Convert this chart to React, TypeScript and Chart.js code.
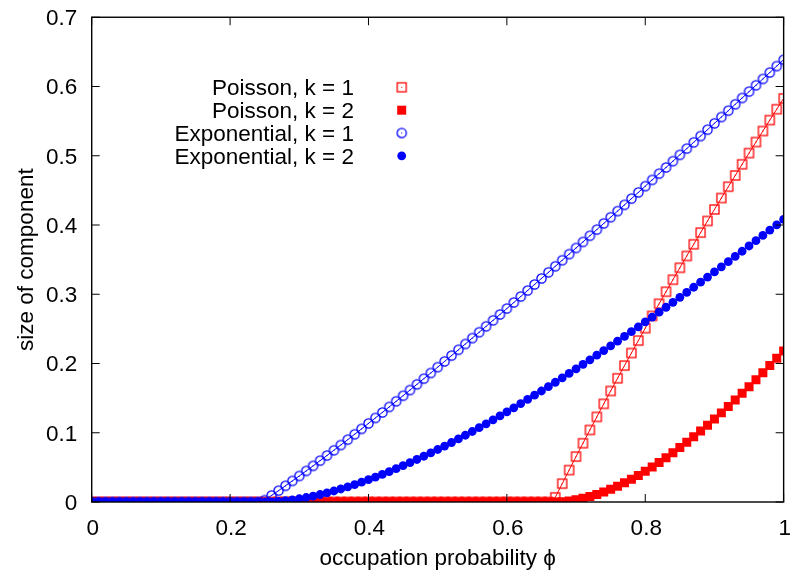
import React, { useEffect, useRef } from "react";
import { Chart, registerables } from "chart.js";

Chart.register(...registerables);

const PHI = [
  0, 0.01, 0.02, 0.03, 0.04, 0.05, 0.06, 0.07, 0.08, 0.09,
  0.1, 0.11, 0.12, 0.13, 0.14, 0.15, 0.16, 0.17, 0.18, 0.19,
  0.2, 0.21, 0.22, 0.23, 0.24, 0.25, 0.26, 0.27, 0.28, 0.29,
  0.3, 0.31, 0.32, 0.33, 0.34, 0.35, 0.36, 0.37, 0.38, 0.39,
  0.4, 0.41, 0.42, 0.43, 0.44, 0.45, 0.46, 0.47, 0.48, 0.49,
  0.5, 0.51, 0.52, 0.53, 0.54, 0.55, 0.56, 0.57, 0.58, 0.59,
  0.6, 0.61, 0.62, 0.63, 0.64, 0.65, 0.66, 0.67, 0.68, 0.69,
  0.7, 0.71, 0.72, 0.73, 0.74, 0.75, 0.76, 0.77, 0.78, 0.79,
  0.8, 0.81, 0.82, 0.83, 0.84, 0.85, 0.86, 0.87, 0.88, 0.89,
  0.9, 0.91, 0.92, 0.93, 0.94, 0.95, 0.96, 0.97, 0.98, 0.99,
  1,
];

const POISSON_K1 = [
  0, 0, 0, 0, 0, 0, 0, 0, 0, 0,
  0, 0, 0, 0, 0, 0, 0, 0, 0, 0,
  0, 0, 0, 0, 0, 0, 0, 0, 0, 0,
  0, 0, 0, 0, 0, 0, 0, 0, 0, 0,
  0, 0, 0, 0, 0, 0, 0, 0, 0, 0,
  0, 0, 0, 0, 0, 0, 0, 0, 0, 0,
  0, 0, 0, 0, 0, 0, 0,
  0.0067, 0.0265, 0.0461, 0.0656, 0.0849, 0.1040, 0.1229, 0.1417, 0.1603, 0.1787,
  0.1970, 0.2151, 0.2331, 0.2510, 0.2687, 0.2862, 0.3037, 0.3210, 0.3382, 0.3553,
  0.3722, 0.3890, 0.4058, 0.4224, 0.4389, 0.4553, 0.4715, 0.4877, 0.5038, 0.5198,
  0.5357, 0.5515, 0.5672, 0.5828,
];

const POISSON_K2 = [
  0, 0, 0, 0, 0, 0, 0, 0, 0, 0,
  0, 0, 0, 0, 0, 0, 0, 0, 0, 0,
  0, 0, 0, 0, 0, 0, 0, 0, 0, 0,
  0, 0, 0, 0, 0, 0, 0, 0, 0, 0,
  0, 0, 0, 0, 0, 0, 0, 0, 0, 0,
  0, 0, 0, 0, 0, 0, 0, 0, 0, 0,
  0, 0, 0, 0, 0, 0, 0, 0,
  0.0005, 0.0016, 0.0032, 0.0053, 0.0079, 0.0110, 0.0145, 0.0185, 0.0229, 0.0277,
  0.0328, 0.0384, 0.0443, 0.0505, 0.0571, 0.0639, 0.0711, 0.0786, 0.0863, 0.0943,
  0.1025, 0.1110, 0.1198, 0.1287, 0.1379, 0.1473, 0.1569, 0.1666, 0.1766, 0.1867,
  0.1970, 0.2075, 0.2181,
];

const EXP_K1 = [
  0, 0, 0, 0, 0, 0, 0, 0, 0, 0,
  0, 0, 0, 0, 0, 0, 0, 0, 0, 0,
  0, 0, 0, 0, 0,
  0.0027, 0.0095, 0.0164, 0.0234, 0.0305, 0.0376, 0.0449, 0.0522, 0.0597, 0.0671,
  0.0747, 0.0823, 0.0900, 0.0978, 0.1056, 0.1135, 0.1214, 0.1293, 0.1373, 0.1454,
  0.1535, 0.1617, 0.1699, 0.1781, 0.1863, 0.1947, 0.2030, 0.2114, 0.2198, 0.2282,
  0.2367, 0.2452, 0.2537, 0.2623, 0.2708, 0.2794, 0.2881, 0.2967, 0.3054, 0.3141,
  0.3228, 0.3316, 0.3404, 0.3491, 0.3580, 0.3668, 0.3756, 0.3845, 0.3934, 0.4023,
  0.4112, 0.4201, 0.4291, 0.4381, 0.4471, 0.4561, 0.4651, 0.4741, 0.4831, 0.4922,
  0.5013, 0.5103, 0.5194, 0.5285, 0.5377, 0.5468, 0.5559, 0.5651, 0.5743, 0.5834,
  0.5926, 0.6018, 0.6110, 0.6202, 0.6295, 0.6387,
];

const EXP_K2 = [
  0, 0, 0, 0, 0, 0, 0, 0, 0, 0,
  0, 0, 0, 0, 0, 0, 0, 0, 0, 0,
  0, 0, 0, 0, 0,
  0.0000, 0.0003, 0.0010, 0.0020, 0.0032, 0.0047, 0.0065, 0.0085, 0.0108, 0.0133,
  0.0159, 0.0188, 0.0219, 0.0252, 0.0286, 0.0322, 0.0359, 0.0398, 0.0439, 0.0481,
  0.0524, 0.0568, 0.0614, 0.0661, 0.0709, 0.0758, 0.0808, 0.0859, 0.0911, 0.0964,
  0.1018, 0.1073, 0.1129, 0.1186, 0.1243, 0.1301, 0.1360, 0.1420, 0.1481, 0.1542,
  0.1603, 0.1666, 0.1729, 0.1793, 0.1857, 0.1922, 0.1987, 0.2053, 0.2120, 0.2187,
  0.2255, 0.2323, 0.2391, 0.2460, 0.2530, 0.2600, 0.2670, 0.2741, 0.2812, 0.2884,
  0.2956, 0.3028, 0.3101, 0.3175, 0.3248, 0.3322, 0.3396, 0.3471, 0.3546, 0.3621,
  0.3697, 0.3773, 0.3849, 0.3926, 0.4002, 0.4080,
];

const SERIES_NAMES = ["Poisson, k = 1", "Poisson, k = 2", "Exponential, k = 1", "Exponential, k = 2"];
const X_TICKS = [0, 0.2, 0.4, 0.6, 0.8, 1];
const X_TICK_LABELS = ["0", "0.2", "0.4", "0.6", "0.8", "1"];
const Y_TICKS = [0, 0.1, 0.2, 0.3, 0.4, 0.5, 0.6, 0.7];
const Y_TICK_LABELS = ["0", "0.1", "0.2", "0.3", "0.4", "0.5", "0.6", "0.7"];
const X_TITLE = "occupation probability \u03d5";
const Y_TITLE = "size of component";

const RED = "#ff0000";
const BLUE = "#0000ff";
const FONT = '"Liberation Sans", Arial, Helvetica, sans-serif';

function openMarker(kind: string, color: string) {
  const c = document.createElement("canvas");
  c.width = 15;
  c.height = 15;
  const g = c.getContext("2d")!;
  g.strokeStyle = color;
  g.fillStyle = color;
  g.lineWidth = 1.3;
  if (kind === "square") {
    g.strokeRect(3, 3, 9, 9);
  } else {
    g.beginPath();
    g.arc(7.5, 7.5, 4.6, 0, Math.PI * 2);
    g.stroke();
  }
  g.fillRect(7, 7, 1, 1);
  return c;
}

function toPoints(values: number[]) {
  return PHI.map((x, i) => ({ x, y: values[i] }));
}

export default function App() {
  const ref = useRef<HTMLCanvasElement | null>(null);

  useEffect(() => {
    const canvas = ref.current;
    if (!canvas) return;
    const openSquare = openMarker("square", RED);
    const openCircle = openMarker("circle", BLUE);

    const framePlugin = {
      id: "gnuFrame",
      afterDatasetsDraw(chart: any) {
        const { ctx, chartArea: a, scales } = chart;
        const xs = scales.x;
        const ys = scales.y;
        ctx.save();
        ctx.strokeStyle = "#000";
        ctx.lineWidth = 1;
        ctx.beginPath();
        Y_TICKS.forEach((v) => {
          const py = ys.getPixelForValue(v);
          ctx.moveTo(a.left, py);
          ctx.lineTo(a.left + 8, py);
          ctx.moveTo(a.right, py);
          ctx.lineTo(a.right - 8, py);
        });
        X_TICKS.forEach((v) => {
          const px = xs.getPixelForValue(v);
          ctx.moveTo(px, a.bottom);
          ctx.lineTo(px, a.bottom - 8);
          ctx.moveTo(px, a.top);
          ctx.lineTo(px, a.top + 8);
        });
        ctx.stroke();
        ctx.lineWidth = 1.4;
        ctx.strokeRect(a.left, a.top, a.right - a.left, a.bottom - a.top);

        ctx.fillStyle = "#000";
        ctx.font = `22.5px ${FONT}`;
        ctx.textBaseline = "alphabetic";
        ctx.textAlign = "right";
        Y_TICKS.forEach((v, i) => {
          const py = ys.getPixelForValue(v);
          ctx.fillText(Y_TICK_LABELS[i], a.left - 14.5, py + 7.8);
        });
        ctx.textAlign = "center";
        X_TICKS.forEach((v, i) => {
          const px = xs.getPixelForValue(v);
          ctx.fillText(X_TICK_LABELS[i], px + 1, a.bottom + 33);
        });
        ctx.fillText(X_TITLE, (a.left + a.right) / 2, a.bottom + 63);
        ctx.save();
        ctx.translate(33, (a.top + a.bottom) / 2);
        ctx.rotate(-Math.PI / 2);
        ctx.fillText(Y_TITLE, 0, 0);
        ctx.restore();

        // key
        ctx.textAlign = "right";
        const rows = [87.3, 110.2, 133, 155.8];
        const mx = 401.7;
        SERIES_NAMES.forEach((name, i) => {
          ctx.fillStyle = "#000";
          ctx.fillText(name, 354, rows[i] + 8);
          const cy = rows[i];
          if (i === 0) ctx.drawImage(openSquare, mx - 7.5, cy - 7.5);
          if (i === 2) ctx.drawImage(openCircle, mx - 7.5, cy - 7.5);
          if (i === 1) {
            ctx.fillStyle = RED;
            ctx.fillRect(mx - 4.5, cy - 4.5, 9, 9);
          }
          if (i === 3) {
            ctx.fillStyle = BLUE;
            ctx.beginPath();
            ctx.arc(mx, cy, 4.4, 0, Math.PI * 2);
            ctx.fill();
          }
        });
        ctx.restore();
      },
    };

    const chart = new Chart(canvas, {
      type: "line",
      data: {
        datasets: [
          {
            label: SERIES_NAMES[0],
            data: toPoints(POISSON_K1),
            borderColor: RED,
            backgroundColor: RED,
            borderWidth: 1,
            pointStyle: openSquare as any,
            pointRadius: 5,
            order: 3,
          },
          {
            label: SERIES_NAMES[1],
            data: toPoints(POISSON_K2),
            borderColor: RED,
            backgroundColor: RED,
            borderWidth: 1,
            pointStyle: "rect",
            pointRadius: 6.36,
            pointBorderWidth: 0,
            order: 2,
          },
          {
            label: SERIES_NAMES[2],
            data: toPoints(EXP_K1),
            borderColor: BLUE,
            backgroundColor: BLUE,
            borderWidth: 1,
            pointStyle: openCircle as any,
            pointRadius: 5,
            order: 1,
          },
          {
            label: SERIES_NAMES[3],
            data: toPoints(EXP_K2),
            borderColor: BLUE,
            backgroundColor: BLUE,
            borderWidth: 1,
            pointStyle: "circle",
            pointRadius: 4.4,
            pointBorderWidth: 0,
            order: 0,
          },
        ],
      },
      options: {
        responsive: false,
        maintainAspectRatio: false,
        animation: false,
        devicePixelRatio: 1,
        layout: { padding: { left: 0, top: 17.25, right: 1.7, bottom: 0 } },
        plugins: { legend: { display: false }, tooltip: { enabled: false }, title: { display: false } },
        elements: { line: { tension: 0 } },
        scales: {
          x: {
            type: "linear",
            min: 0,
            max: 1,
            grid: { display: false },
            border: { display: false },
            ticks: { display: false },
            afterFit: (s: any) => {
              s.height = 69;
            },
          },
          y: {
            type: "linear",
            min: 0,
            max: 0.7,
            grid: { display: false },
            border: { display: false },
            ticks: { display: false },
            afterFit: (s: any) => {
              s.width = 91.7;
            },
          },
        },
      },
      plugins: [framePlugin],
    });
    return () => chart.destroy();
  }, []);

  return (
    <div style={{ position: "fixed", left: 0, top: 0, width: 790, height: 571, background: "#fff" }}>
      <canvas ref={ref} width={790} height={571} style={{ width: 790, height: 571, display: "block" }} />
    </div>
  );
}
